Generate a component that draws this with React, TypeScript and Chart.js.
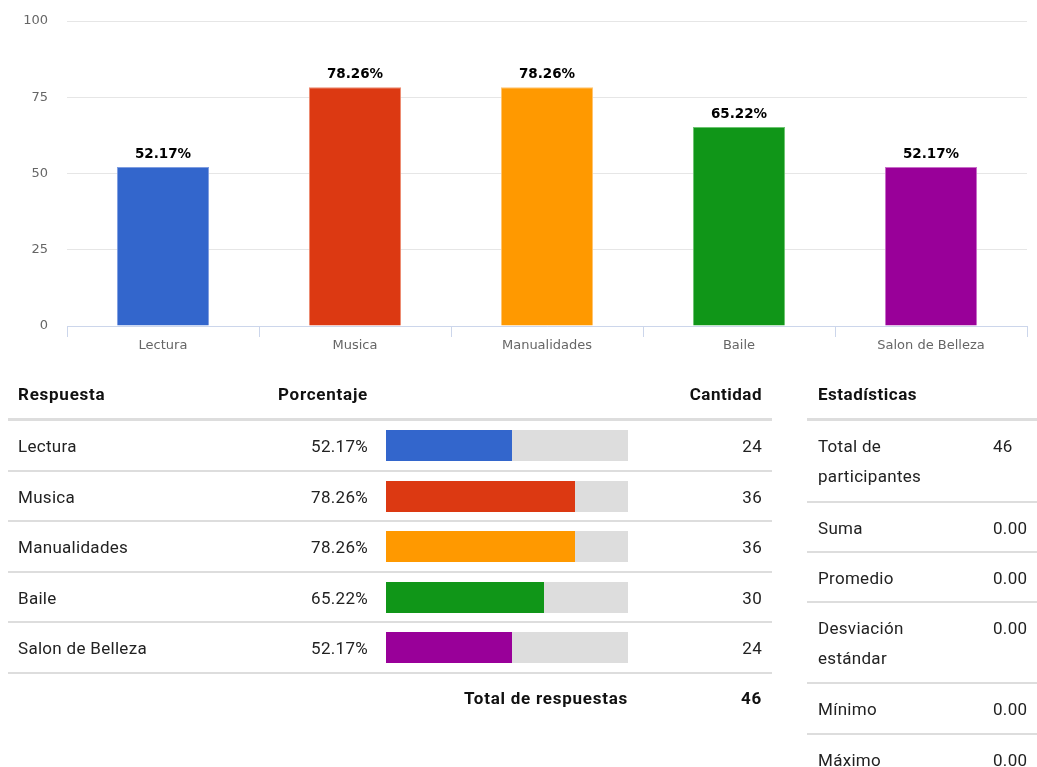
import React, { useEffect, useRef } from "react";
import { Chart, registerables } from "chart.js";

Chart.register(...registerables);

const categories = ["Lectura", "Musica", "Manualidades", "Baile", "Salon de Belleza"];
const percentages = [52.17, 78.26, 78.26, 65.22, 52.17];
const counts = [24, 36, 36, 30, 24];
const colors = ["#3366cc", "#dc3912", "#ff9900", "#109618", "#990099"];
const borderColors = ["#7f9de0", "#ec8a70", "#ffc470", "#6cc470", "#c86cc8"];
const yMin = 0;
const yMax = 100;
const yStep = 25;
const totalResponses = 46;
const statLabels = [["Total de", "participantes"], ["Suma"], ["Promedio"], ["Desviación", "estándar"], ["Mínimo"], ["Máximo"]];
const statValues = ["46", "0.00", "0.00", "0.00", "0.00", "0.00"];

const TEXT = "#222";
const LINE = "#dddddd";
const FONT = "Roboto, 'Noto Sans', sans-serif";

const valueLabels = {
  id: "valueLabels",
  afterDatasetsDraw(chart: any) {
    const ctx = chart.ctx;
    const meta = chart.getDatasetMeta(0);
    ctx.save();
    ctx.font = "bold 13.5px 'DejaVu Sans'";
    ctx.fillStyle = "#000";
    ctx.textAlign = "center";
    ctx.textBaseline = "alphabetic";
    meta.data.forEach((bar: any, i: number) => {
      ctx.fillText(percentages[i].toFixed(2) + "%", bar.x, bar.y - 9);
    });
    ctx.restore();
  },
};

function BarChart() {
  const ref = useRef<HTMLCanvasElement>(null);
  useEffect(() => {
    const chart = new Chart(ref.current!, {
      type: "bar",
      data: {
        labels: categories,
        datasets: [
          {
            data: percentages,
            backgroundColor: colors,
            borderColor: borderColors,
            borderWidth: 1,
            categoryPercentage: 1,
            barPercentage: 0.48,
          },
        ],
      },
      options: {
        animation: false,
        responsive: false,
        maintainAspectRatio: false,
        layout: { padding: { top: 21, right: 10, left: 0, bottom: 0 } },
        plugins: { legend: { display: false }, tooltip: { enabled: false } },
        scales: {
          x: {
            offset: true,
            grid: {
              display: true,
              offset: true,
              drawOnChartArea: false,
              drawTicks: true,
              tickLength: 11,
              color: "#ccd6eb",
            },
            border: { display: true, color: "#ccd6eb", width: 1 },
            ticks: {
              color: "#666",
              font: { family: "'DejaVu Sans'", size: 13 },
              padding: 1,
              maxRotation: 0,
              autoSkip: false,
            },
            afterFit(scale: any) {
              scale.height = 34;
              scale.paddingLeft = 0;
              scale.paddingRight = 0;
            },
          },
          y: {
            min: yMin,
            max: yMax,
            grid: { color: "#e6e6e6", drawTicks: false },
            border: { display: false },
            ticks: {
              stepSize: yStep,
              color: "#666",
              padding: 19,
              font: { family: "'DejaVu Sans'", size: 13 },
            },
            afterFit(scale: any) {
              scale.width = 67;
              scale.paddingTop = 0;
              scale.paddingBottom = 0;
            },
          },
        },
      },
      plugins: [valueLabels],
    });
    return () => chart.destroy();
  }, []);
  return (
    <canvas
      ref={ref}
      width={1037}
      height={360}
      style={{ position: "absolute", left: 0, top: 0, width: 1037, height: 360 }}
    />
  );
}

const cell: React.CSSProperties = {
  position: "absolute",
  lineHeight: "30px",
  whiteSpace: "nowrap",
};

const boldCell: React.CSSProperties = {
  ...cell,
  fontWeight: 700,
  color: "#111",
  letterSpacing: "0.75px",
};

function ResponseTable() {
  const headerTop = 379;
  const firstRowTop = 421;
  const rowH = 50.5;
  return (
    <div style={{ position: "absolute", left: 0, top: 0, width: 1037, height: 767, fontFamily: FONT, fontSize: 17, letterSpacing: "0.3px", color: TEXT }}>
      <div style={{ ...boldCell, top: headerTop, left: 18 }}>Respuesta</div>
      <div style={{ ...boldCell, top: headerTop, right: 1037 - 368 }}>Porcentaje</div>
      <div style={{ ...boldCell, top: headerTop, right: 1037 - 762, letterSpacing: "0.5px" }}>Cantidad</div>
      <div style={{ position: "absolute", left: 8, width: 764, top: 418, height: 3, background: LINE }} />
      {categories.map((c, i) => {
        const top = firstRowTop + i * rowH;
        return (
          <React.Fragment key={c}>
            <div style={{ ...cell, top: top + 10, left: 18 }}>{c}</div>
            <div style={{ ...cell, top: top + 10, right: 1037 - 368 }}>{percentages[i].toFixed(2)}%</div>
            <div style={{ position: "absolute", left: 386, width: 242, top: top + 9, height: 31, background: "#dddddd" }}>
              <div style={{ width: `${percentages[i]}%`, height: "100%", background: colors[i] }} />
            </div>
            <div style={{ ...cell, top: top + 10, right: 1037 - 762 }}>{counts[i]}</div>
            <div style={{ position: "absolute", left: 8, width: 764, top: top + 48.5, height: 2, background: LINE }} />
          </React.Fragment>
        );
      })}
      <div style={{ ...boldCell, top: 683, right: 1037 - 628 }}>Total de respuestas</div>
      <div style={{ ...boldCell, top: 683, right: 1037 - 762 }}>{totalResponses}</div>
    </div>
  );
}

function StatsTable() {
  let y = 421;
  const rows: React.ReactNode[] = [];
  statLabels.forEach((lines, i) => {
    const h = lines.length === 1 ? 48.2 : 79.5;
    rows.push(
      <React.Fragment key={i}>
        <div style={{ ...cell, top: y + 10, left: 818 }}>
          {lines.map((l, j) => (
            <div key={j}>{l}</div>
          ))}
        </div>
        <div style={{ ...cell, top: y + 10, left: 993 }}>{statValues[i]}</div>
        {i < statLabels.length - 1 && (
          <div style={{ position: "absolute", left: 807, width: 230, top: y + h, height: 2, background: LINE }} />
        )}
      </React.Fragment>
    );
    y += h + 2;
  });
  return (
    <div style={{ position: "absolute", left: 0, top: 0, width: 1037, height: 767, fontFamily: FONT, fontSize: 17, letterSpacing: "0.3px", color: TEXT }}>
      <div style={{ ...boldCell, top: 379, left: 818, letterSpacing: "0.5px" }}>Estadísticas</div>
      <div style={{ position: "absolute", left: 807, width: 230, top: 418, height: 3, background: LINE }} />
      {rows}
    </div>
  );
}

export default function App() {
  return (
    <div style={{ position: "absolute", left: 0, top: 0, width: 1037, height: 767, overflow: "hidden", background: "#fff" }}>
      <BarChart />
      <ResponseTable />
      <StatsTable />
    </div>
  );
}
